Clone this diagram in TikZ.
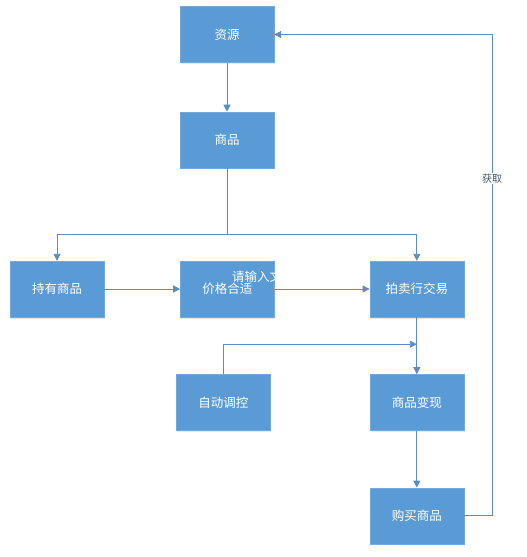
\documentclass[tikz,border=0pt]{standalone}
\usepackage{fontspec}
\newfontfamily\cjk{Noto Sans CJK SC}
\usetikzlibrary{arrows.meta,positioning,shadows}
\definecolor{flblue}{HTML}{5B9BD5}
\definecolor{flline}{HTML}{5A8DC4}
\definecolor{fllbl}{HTML}{44546A}
\tikzset{
  box/.style = {rectangle, fill=flblue, draw=flblue!85!white, thin,
                minimum width=94pt, minimum height=56pt, inner sep=0pt,
                text=white, font=\cjk\fontsize{12.5}{15}\selectfont,
                drop shadow={opacity=0.18, shadow xshift=1pt, shadow yshift=-1.5pt}},
  ed/.style  = {-{Triangle[length=7pt,width=7pt]}, draw=flline, line width=0.9pt},
  ln/.style  = {draw=flline, line width=0.9pt},
  lbl/.style = {font=\cjk\fontsize{10}{12}\selectfont, text=fllbl,
                fill=white, inner sep=1pt},
  hint/.style = {font=\cjk\fontsize{12.5}{15}\selectfont, text=white, inner sep=0pt},
}
\begin{document}
\begin{tikzpicture}[x=1pt, y=1pt]
  \useasboundingbox (0,0) rectangle (527,-557);
  \node[box] at (227,-34.5) (res) {资源};
  \node[box, below=49pt of res] (goods) {商品};
  \node[box] at (57,-289) (hold) {持有商品};
  \node[box, right=76pt of hold] (price) {价格合适};
  \node[box, right=95pt of price] (auc) {拍卖行交易};
  \node[box, below=57pt of auc] (cash) {商品变现};
  \node[box, left=99pt of cash] (auto) {自动调控};
  \node[box, below=57pt of cash] (buy) {购买商品};
  \node[hint] at (257,-277) (tip) {请输入文};
  \coordinate[below=66pt of goods.south] (fork);
  \coordinate[below=27pt of auc.south] (join);
  \coordinate[right=28pt of buy.east] (ret);
  \draw[ed] (res) -- (goods);
  \draw[ln] (goods.south) -- (fork);
  \draw[ed] (fork) -| (hold.north);
  \draw[ed] (fork) -| (auc.north);
  \draw[ed] (hold) -- (price);
  \draw[ed] (price) -- (auc);
  \draw[ed] (auc) -- (cash);
  \draw[ed] (auto.north) |- (join);
  \draw[ed] (cash) -- (buy);
  \draw[ed] (buy.east) -- (ret) |- node[lbl, pos=0.35]{获取} (res.east);
\end{tikzpicture}
\end{document}
